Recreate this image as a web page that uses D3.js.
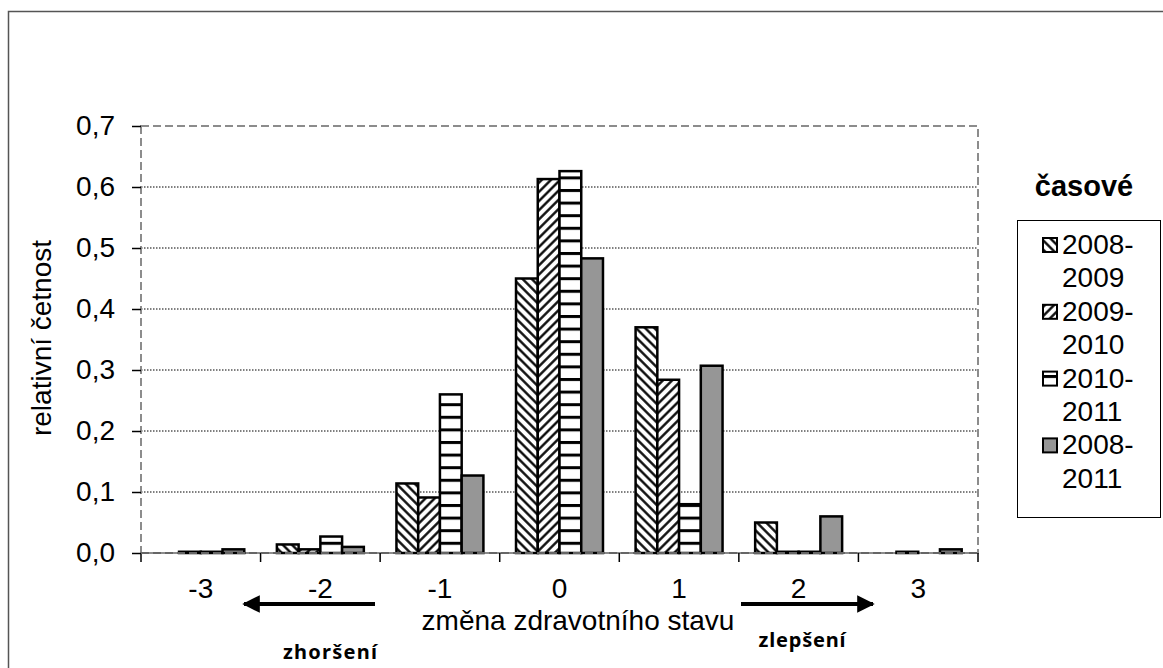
<!DOCTYPE html>
<html>
<head>
<meta charset="utf-8">
<script src="https://cdn.jsdelivr.net/npm/d3@7"></script>
<style>
  body { margin: 0; background: #fff; }
  svg { display: block; font-family: "Liberation Sans", Arial, sans-serif; }
</style>
</head>
<body>
<svg id="chart" width="1163" height="668"></svg>
<script>
// data
const categories = ["-3", "-2", "-1", "0", "1", "2", "3"];
const seriesNames = ["2008-2009", "2009-2010", "2010-2011", "2008-2011"];
const s20082009 = [0, 0.014, 0.114, 0.450, 0.370, 0.050, 0];
const s20092010 = [0.002, 0.006, 0.091, 0.613, 0.284, 0.002, 0.002];
const s20102011 = [0.002, 0.027, 0.260, 0.626, 0.080, 0.002, 0];
const s20082011 = [0.006, 0.010, 0.127, 0.483, 0.307, 0.060, 0.006];
const yTicks = [0, 0.1, 0.2, 0.3, 0.4, 0.5, 0.6, 0.7];

const seriesValues = [s20082009, s20092010, s20102011, s20082011];
const fills = ["url(#diagDown)", "url(#diagUp)", "url(#horiz)", "#969696"];
const FONT = 28;

const SVG = d3.select("#chart");

// patterns
const defs = SVG.append("defs");
function stripe(id, rot) {
  const p = defs.append("pattern")
    .attr("id", id)
    .attr("patternUnits", "userSpaceOnUse")
    .attr("width", 6.5).attr("height", 6.5)
    .attr("patternTransform", `rotate(${rot})`);
  p.append("rect").attr("width", 6.5).attr("height", 6.5).attr("fill", "#fff");
  p.append("line")
    .attr("x1", 3.25).attr("y1", 0).attr("x2", 3.25).attr("y2", 6.5)
    .attr("stroke", "#000").attr("stroke-width", 2.3);
}
stripe("diagDown", -45);
stripe("diagUp", 45);
const hp = defs.append("pattern")
  .attr("id", "horiz")
  .attr("patternUnits", "userSpaceOnUse")
  .attr("width", 10).attr("height", 12.6);
hp.append("rect").attr("width", 10).attr("height", 12.6).attr("fill", "#fff");
hp.append("rect").attr("y", 0).attr("width", 10).attr("height", 3).attr("fill", "#000");

// outer frame
SVG.append("path")
  .attr("d", "M8.5,668 V11.5 H1163")
  .attr("fill", "none")
  .attr("stroke", "#555")
  .attr("stroke-width", 1.5);

// scales
const LEFT = 141, RIGHT = 978, TOP = 126, BOTTOM = 553;
const X0 = d3.scaleBand().domain(categories).range([LEFT, RIGHT]).padding(0);
const X1 = d3.scaleBand().domain(seriesNames).range([0, X0.bandwidth()])
  .paddingInner(0).paddingOuter(0.75);
const Y = d3.scaleLinear().domain([0, 0.7]).range([BOTTOM, TOP]);
const fmt = (d) => d3.format(".1f")(d).replace(".", ",");

// gridlines
SVG.append("g")
  .selectAll("line")
  .data(yTicks.slice(1, -1))
  .join("line")
  .attr("x1", LEFT).attr("x2", RIGHT)
  .attr("y1", (d) => Y(d)).attr("y2", (d) => Y(d))
  .attr("stroke", "#000")
  .attr("stroke-width", 1)
  .attr("stroke-dasharray", "1.5,1.5");

// plot border (dashed gray)
SVG.append("rect")
  .attr("x", LEFT).attr("y", TOP)
  .attr("width", RIGHT - LEFT).attr("height", BOTTOM - TOP)
  .attr("fill", "none")
  .attr("stroke", "#8c8c8c")
  .attr("stroke-width", 2)
  .attr("stroke-dasharray", "8,4");

// bars
const groups = SVG.append("g")
  .selectAll("g")
  .data(seriesNames)
  .join("g")
  .attr("fill", (d, i) => fills[i]);
groups.each(function (name, si) {
  d3.select(this)
    .selectAll("rect")
    .data(seriesValues[si])
    .join("rect")
    .attr("x", (d, i) => X0(categories[i]) + X1(name))
    .attr("y", (d) => Y(d))
    .attr("width", X1.bandwidth())
    .attr("height", (d) => BOTTOM - Y(d))
    .attr("stroke", "#000")
    .attr("stroke-width", (d) => (d > 0 ? 2.5 : 0));
});

// axes
const Y_AXIS = d3.axisLeft(Y).tickValues(yTicks).tickSize(9).tickPadding(17).tickFormat(fmt);
const Y_AXIS_G = SVG.append("g").attr("transform", `translate(${LEFT},0)`).call(Y_AXIS);
Y_AXIS_G.select(".domain").remove();
Y_AXIS_G.selectAll(".tick line").attr("stroke", "#000").attr("stroke-width", 1.5);
Y_AXIS_G.selectAll("text")
  .attr("font-size", FONT)
  .attr("font-family", "Liberation Sans, Arial, sans-serif")
  .attr("fill", "#000");

const xBounds = d3.scalePoint().domain(d3.range(categories.length + 1)).range([LEFT, RIGHT]);
SVG.append("g")
  .selectAll("line")
  .data(d3.range(categories.length + 1))
  .join("line")
  .attr("x1", (d) => xBounds(d)).attr("x2", (d) => xBounds(d))
  .attr("y1", BOTTOM).attr("y2", BOTTOM + 9)
  .attr("stroke", "#000").attr("stroke-width", 1.5);
SVG.append("line")
  .attr("x1", LEFT).attr("x2", RIGHT)
  .attr("y1", BOTTOM).attr("y2", BOTTOM)
  .attr("stroke", "#666").attr("stroke-width", 2)
  .attr("stroke-dasharray", "8,4");

SVG.append("g")
  .selectAll("text")
  .data(categories)
  .join("text")
  .attr("x", (d) => X0(d) + X0.bandwidth() / 2)
  .attr("y", 598)
  .attr("text-anchor", "middle")
  .attr("font-size", FONT)
  .text((d) => d);

// axis titles
SVG.append("text")
  .attr("transform", "translate(51,338) rotate(-90)")
  .attr("text-anchor", "middle")
  .attr("font-size", FONT)
  .text("relativní četnost");
SVG.append("text")
  .attr("x", 578).attr("y", 630)
  .attr("text-anchor", "middle")
  .attr("font-size", FONT)
  .text("změna zdravotního stavu");

// arrows
defs.append("marker")
  .attr("id", "arrowHead")
  .attr("viewBox", "0 0 10 10")
  .attr("refX", 9).attr("refY", 5)
  .attr("markerWidth", 7).attr("markerHeight", 4.4)
  .attr("markerUnits", "strokeWidth")
  .attr("orient", "auto")
  .append("path").attr("d", "M0,0 L10,5 L0,10 Z").attr("fill", "#000");
SVG.append("line")
  .attr("x1", 375).attr("y1", 604).attr("x2", 244).attr("y2", 604)
  .attr("stroke", "#000").attr("stroke-width", 4)
  .attr("marker-end", "url(#arrowHead)");
SVG.append("line")
  .attr("x1", 741).attr("y1", 604).attr("x2", 873).attr("y2", 604)
  .attr("stroke", "#000").attr("stroke-width", 4)
  .attr("marker-end", "url(#arrowHead)");
SVG.append("text")
  .attr("x", 330).attr("y", 659)
  .attr("text-anchor", "middle")
  .attr("font-family", "Noto Sans, sans-serif")
  .attr("font-weight", "bold")
  .attr("font-size", 20)
  .attr("textLength", 94)
  .text("zhoršení");
SVG.append("text")
  .attr("x", 802).attr("y", 647)
  .attr("text-anchor", "middle")
  .attr("font-family", "Noto Sans, sans-serif")
  .attr("font-weight", "bold")
  .attr("font-size", 20)
  .attr("textLength", 87)
  .text("zlepšení");

// legend
SVG.append("text")
  .attr("x", 1084).attr("y", 196)
  .attr("text-anchor", "middle")
  .attr("font-weight", "bold")
  .attr("font-size", 29)
  .text("časové");
SVG.append("rect")
  .attr("x", 1017.5).attr("y", 220.5)
  .attr("width", 143).attr("height", 297)
  .attr("fill", "#fff")
  .attr("stroke", "#000").attr("stroke-width", 1);
const LEG = SVG.append("g")
  .selectAll("g")
  .data(seriesNames)
  .join("g")
  .attr("transform", (d, i) => `translate(1043,${254 + i * 66.8})`);
LEG.append("rect")
  .attr("x", 0).attr("y", -16)
  .attr("width", 14).attr("height", 14)
  .attr("fill", (d, i) => fills[i])
  .attr("stroke", "#000").attr("stroke-width", 2);
LEG.append("text")
  .attr("x", 19).attr("y", 0)
  .attr("font-size", FONT)
  .text((d) => d.split("-")[0] + "-");
LEG.append("text")
  .attr("x", 19).attr("y", 33.4)
  .attr("font-size", FONT)
  .text((d) => d.split("-")[1]);
</script>
</body>
</html>
